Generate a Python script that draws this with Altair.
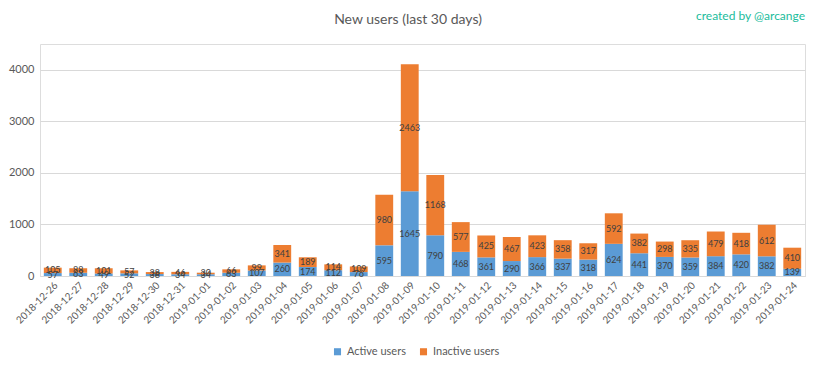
import altair as alt
import pandas as pd

dates = ["2018-12-26", "2018-12-27", "2018-12-28", "2018-12-29", "2018-12-30", "2018-12-31",
         "2019-01-01", "2019-01-02", "2019-01-03", "2019-01-04", "2019-01-05", "2019-01-06",
         "2019-01-07", "2019-01-08", "2019-01-09", "2019-01-10", "2019-01-11", "2019-01-12",
         "2019-01-13", "2019-01-14", "2019-01-15", "2019-01-16", "2019-01-17", "2019-01-18",
         "2019-01-19", "2019-01-20", "2019-01-21", "2019-01-22", "2019-01-23", "2019-01-24"]
active = [57, 63, 49, 52, 38, 34, 34, 63, 107, 260, 174, 112, 76, 595, 1645, 790, 468, 361,
          290, 366, 337, 318, 624, 441, 370, 359, 384, 420, 382, 139]
inactive = [105, 88, 101, 57, 38, 46, 30, 66, 99, 341, 189, 114, 109, 980, 2463, 1168, 577, 425,
            467, 423, 358, 317, 592, 382, 298, 335, 479, 418, 612, 410]
series = ["Active users", "Inactive users"]
colors = ["#5B9BD5", "#ED7D31"]

rows = []
for d, a, i in zip(dates, active, inactive):
    rows.append({"date": d, "series": series[0], "order": 0, "value": a})
    rows.append({"date": d, "series": series[1], "order": 1, "value": i})
df = pd.DataFrame(rows)

FONT = "Lato"

base = alt.Chart(df).transform_stack(
    stack="value", groupby=["date"], sort=[alt.SortField("order")], as_=["y0", "y1"]
).transform_calculate(mid="(datum.y0 + datum.y1) / 2")

xenc = alt.X("date:N", sort=dates, title=None,
             scale=alt.Scale(paddingInner=0.3, paddingOuter=0.15),
             axis=alt.Axis(labelAngle=-45, labelFontSize=10, labelColor="#595959",
                           labelFont=FONT, ticks=False, domainColor="#D9D9D9",
                           labelPadding=4))

bars = base.mark_bar().encode(
    x=xenc,
    y=alt.Y("y0:Q", title=None, scale=alt.Scale(domain=[0, 4500]),
            axis=alt.Axis(values=list(range(0, 4501, 500)), grid=True, gridColor="#D9D9D9",
                          domain=False, ticks=False, labelFontSize=11, labelColor="#595959",
                          labelFont=FONT, labelPadding=6, format="d")),
    y2="y1:Q",
    color=alt.Color("series:N", scale=alt.Scale(domain=series, range=colors),
                    legend=alt.Legend(title=None, orient="none", legendX=292, legendY=302,
                                      direction="horizontal", symbolType="square",
                                      symbolSize=50, labelFontSize=11, labelFont=FONT,
                                      labelColor="#595959", columnPadding=12,
                                      symbolStrokeWidth=0)),
)

labels = base.mark_text(fontSize=9, color="#404040", font=FONT).encode(
    x=alt.X("date:N", sort=dates),
    y=alt.Y("mid:Q"),
    text="value:Q",
)

credit = alt.Chart(pd.DataFrame({"t": ["created by @arcange"]})).mark_text(
    color="#1ABC9C", fontSize=12, font=FONT, align="right", baseline="middle"
).encode(x=alt.value(765), y=alt.value(-28), text="t:N")

title = alt.Chart(pd.DataFrame({"t": ["New users (last 30 days)"]})).mark_text(
    color="#595959", fontSize=14, font=FONT, align="center"
).encode(x=alt.value(368), y=alt.value(-24), text="t:N")

chart = alt.layer(bars, labels, credit, title).properties(
    width=765, height=232,
    autosize=alt.AutoSizeParams(type="none"),
    padding={"left": 32, "top": 36, "right": 3, "bottom": 87},
).configure_view(strokeWidth=0).configure(background="white")

chart.save("out.html", embed_options={"renderer": "svg", "actions": False})
